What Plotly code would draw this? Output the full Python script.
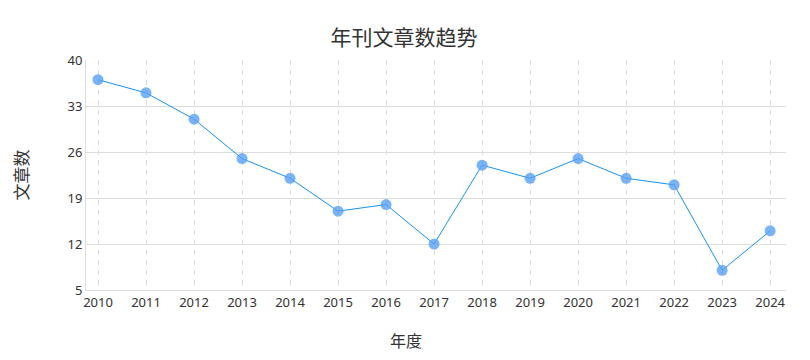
import plotly.graph_objects as go

years = [2010, 2011, 2012, 2013, 2014, 2015, 2016, 2017, 2018, 2019, 2020, 2021, 2022, 2023, 2024]
counts = [37, 35, 31, 25, 22, 17, 18, 12, 24, 22, 25, 22, 21, 8, 14]
y_ticks = [5, 12, 19, 26, 33, 40]

fig = go.Figure()
fig.add_trace(go.Scatter(
    x=years, y=counts, mode="lines+markers",
    line=dict(color="#1593f2", width=1),
    marker=dict(size=11, color="rgba(90,160,245,0.8)", line=dict(width=0)),
    hoverinfo="x+y",
))

font_family = "Noto Sans, Noto Sans CJK SC, sans-serif"
cjk_family = "Noto Sans CJK SC, sans-serif"
fig.update_layout(
    width=810, height=360,
    margin=dict(l=78, r=32, t=52, b=78, autoexpand=False),
    paper_bgcolor="white", plot_bgcolor="white",
    font=dict(family=font_family, color="#333333", size=13),
    title=dict(text="年刊文章数趋势", x=396 / 810, xanchor="center", y=1 - 30 / 360, yanchor="middle",
               font=dict(size=21, color="#333333", family=cjk_family)),
    showlegend=False,
    xaxis=dict(
        range=[2009.75, 2024.33], automargin=False,
        tickmode="array", tickvals=years, ticktext=[str(y) for y in years],
        showgrid=True, gridcolor="#dddddd", griddash="5px,5px", gridwidth=1,
        showline=True, linecolor="#dddddd", linewidth=1,
        zeroline=False, ticks="",
        tickfont=dict(size=13, color="#333333"),
    ),
    yaxis=dict(
        range=[5, 40], automargin=False,
        tickmode="array", tickvals=y_ticks,
        showgrid=True, gridcolor="#dddddd", gridwidth=1,
        showline=True, linecolor="#dddddd", linewidth=1,
        zeroline=False, ticks="",
        title=dict(text="文章数", font=dict(size=17, color="#333333", family=cjk_family), standoff=42),
        tickfont=dict(size=13, color="#333333"),
    ),
    annotations=[dict(
        text="年度", xref="paper", yref="paper",
        x=(398 - 78) / 700, y=-(332 - 282) / 230, xanchor="center", yanchor="middle",
        showarrow=False, font=dict(size=16, color="#333333", family=cjk_family),
    )],
)

fig.write_html("out.html")
